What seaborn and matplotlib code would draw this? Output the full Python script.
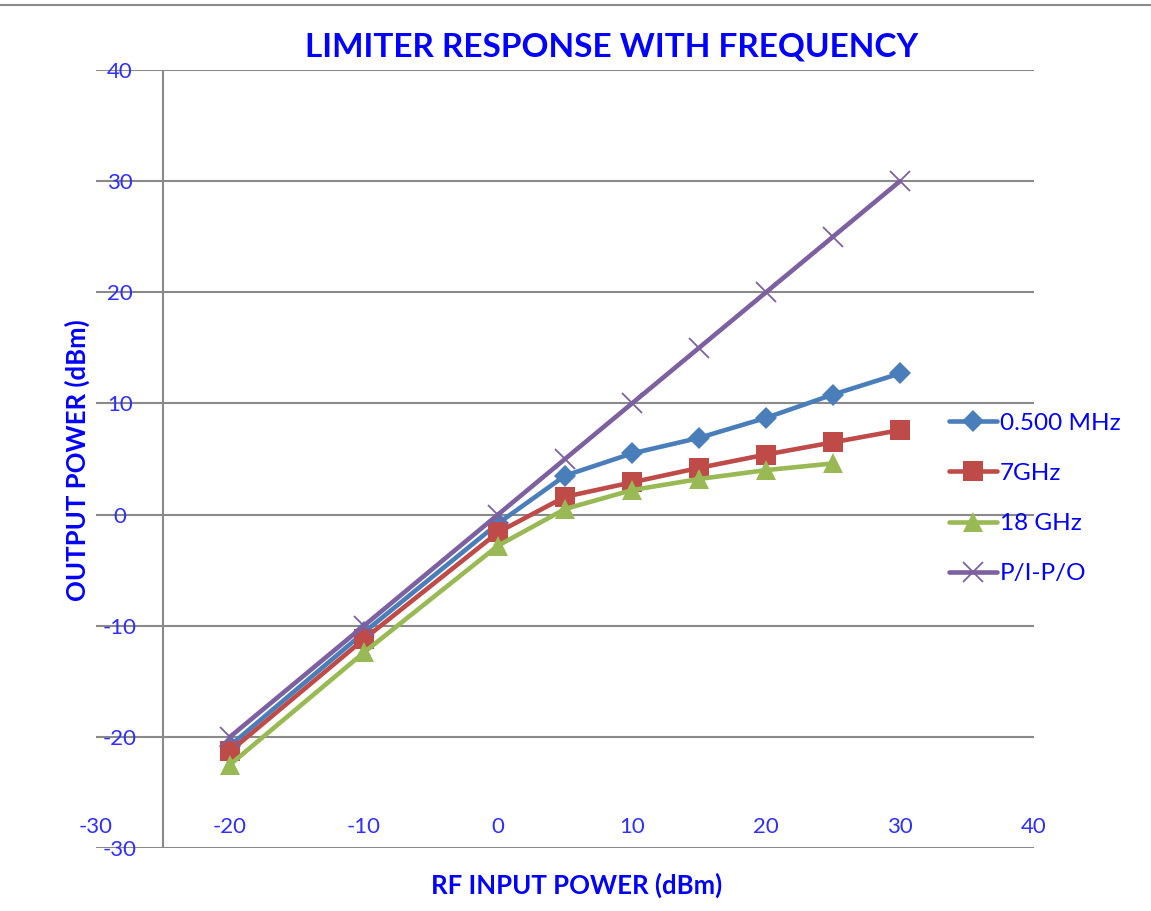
import numpy as np
import pandas as pd
import matplotlib
matplotlib.use("Agg")
import matplotlib.pyplot as plt
from matplotlib.lines import Line2D
import seaborn as sns

# input power (dBm)
rf_input = [-20, -10, 0, 5, 10, 15, 20, 25, 30]

# output power (dBm) per series
out_05mhz = [-20.8, -10.6, -0.8, 3.5, 5.5, 6.9, 8.7, 10.8, 12.7]
out_7ghz = [-21.3, -11.2, -1.6, 1.6, 2.9, 4.2, 5.4, 6.5, 7.6]
out_18ghz = [-22.5, -12.4, -2.8, 0.5, 2.2, 3.2, 4.0, 4.6, np.nan]
out_pipo = [-20, -10, 0, 5, 10, 15, 20, 25, 30]

series_names = ["0.500 MHz", "7GHz", "18 GHz", "P/I-P/O"]
series_values = [out_05mhz, out_7ghz, out_18ghz, out_pipo]

x_ticks = [-30, -20, -10, 0, 10, 20, 30, 40]
y_ticks = [-30, -20, -10, 0, 10, 20, 30, 40]

frames = []
for name, vals in zip(series_names, series_values):
    frames.append(pd.DataFrame({"rf_in": rf_input, "out": vals, "series": name}))
df = pd.concat(frames, ignore_index=True)

sns.set_style("white")
plt.rcParams['font.family'] = ['Lato', 'DejaVu Sans']

palette = {"0.500 MHz": "#4a7ebb", "7GHz": "#be4b48", "18 GHz": "#98b954", "P/I-P/O": "#7d60a0"}
markers = {"0.500 MHz": "D", "7GHz": "s", "18 GHz": "^", "P/I-P/O": "x"}
msizes = {"0.500 MHz": 11, "7GHz": 14, "18 GHz": 14, "P/I-P/O": 14}

blue = "#0000ff"
tick_blue = "#2f2fff"
grid_gray = "#8a8a8a"

fig = plt.figure(figsize=(11.51, 9.11), dpi=100)
ax = fig.add_axes([96 / 1151, 1 - 848 / 911, (1034 - 96) / 1151, (848 - 70) / 911])

for name in series_names:
    sub = df[df["series"] == name].dropna()
    sns.lineplot(data=sub, x="rf_in", y="out", ax=ax, color=palette[name],
                 marker=markers[name], markersize=msizes[name],
                 markeredgewidth=1.3 if name == "P/I-P/O" else 0,
                 markeredgecolor=palette[name],
                 linewidth=3.3, label=name, sort=False)

ax.set_xlim(-30, 40)
ax.set_ylim(-30, 40)
ax.set_xticks(x_ticks)
ax.set_yticks(y_ticks)
ax.set_xticklabels([str(v) for v in x_ticks])
ax.set_yticklabels([str(v) for v in y_ticks])

for s in ax.spines.values():
    s.set_visible(False)
ax.yaxis.grid(True, color=grid_gray, linewidth=1.5)
ax.xaxis.grid(False)
ax.set_axisbelow(True)
ax.axvline(-25, color=grid_gray, linewidth=1.5, zorder=0)

ax.tick_params(axis='both', length=0, labelsize=16, colors=tick_blue)
ax.tick_params(axis='y', pad=-17)
ax.tick_params(axis='x', pad=-15)
for lbl in ax.get_yticklabels():
    lbl.set_ha('center')
for lbl in ax.get_xticklabels():
    lbl.set_va('center')

ax.set_xlabel("")
ax.set_ylabel("")
fig.text(612 / 1151, 1 - 47 / 911, "LIMITER RESPONSE WITH FREQUENCY", color=blue,
         fontsize=24, fontweight='bold', ha='center', va='center')
fig.text(577 / 1151, 1 - 885 / 911, "RF INPUT POWER (dBm)", color=blue,
         fontsize=18.5, fontweight='bold', ha='center', va='center')
fig.text(77 / 1151, 1 - 460 / 911, "OUTPUT POWER (dBm)", color=blue,
         fontsize=18.5, fontweight='bold', ha='center', va='center', rotation=90)

leg = ax.legend(loc='upper left', bbox_to_anchor=(939 / 1151, 1 - 403 / 911),
                bbox_transform=fig.transFigure, frameon=False, fontsize=17.5,
                handlelength=2.0, handletextpad=0.1, labelspacing=1.2,
                borderaxespad=0)
for t in leg.get_texts():
    t.set_color(blue)

fig.add_artist(Line2D([0, 1], [1 - 5 / 911, 1 - 5 / 911], color=grid_gray, linewidth=1.5))

fig.savefig("out.png", dpi=100)
